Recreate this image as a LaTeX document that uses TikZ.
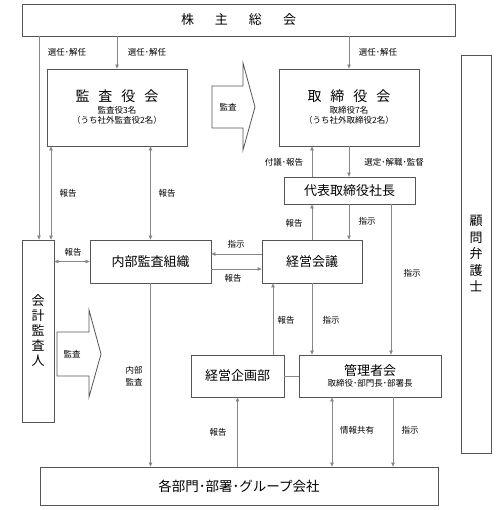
\documentclass[tikz,border=0pt]{standalone}
\usepackage{fontspec}
\setmainfont{Noto Sans CJK JP}
\usepackage{xcolor}
\usepackage{tikz}
\usetikzlibrary{arrows.meta}
\definecolor{boxline}{RGB}{85,85,85}
\definecolor{conline}{RGB}{135,135,135}

\begin{document}
\begin{tikzpicture}[x=1pt,y=-1pt,
		box/.style={draw=boxline,line width=0.8pt,inner sep=0pt,align=center,font=\fontsize{13}{15}\selectfont},
		lbl/.style={inner sep=0pt,font=\fontsize{8.5}{10}\selectfont},
		con/.style={draw=conline,line width=0.7pt,-{Triangle[length=4pt,width=3.6pt]}},
		dcon/.style={con,{Triangle[length=4pt,width=3.6pt]}-{Triangle[length=4pt,width=3.6pt]}}]
		\useasboundingbox (0,0) rectangle (503,510);
		
		\node[box,minimum width=433pt,minimum height=32pt] (soukai) at (238.5,20) {株\hspace{21pt}主\hspace{21pt}総\hspace{21pt}会};
		\node[box,minimum width=140pt,minimum height=77pt,font=\fontsize{8.5}{10.5}\selectfont] (kansa) at (117,107.5) {{\fontsize{14}{14}\selectfont 監\hspace{9pt}査\hspace{9pt}役\hspace{9pt}会}\\[1pt]監査役3名\\（うち社外監査役2名）};
		\node[box,minimum width=140pt,minimum height=77pt,font=\fontsize{8.5}{10.5}\selectfont] (tori) at (349,107.5) {{\fontsize{14}{14}\selectfont 取\hspace{9pt}締\hspace{9pt}役\hspace{9pt}会}\\[1pt]取締役7名\\（うち社外取締役2名）};
		\node[box,minimum width=30pt,minimum height=398pt,font=\fontsize{13}{16.5}\selectfont] (komon) at (476,254) {顧\\問\\弁\\護\\士};
		\node[box,minimum width=131pt,minimum height=27pt] (daihyo) at (349.5,190.5) {代表取締役社長};
		\node[box,minimum width=100pt,minimum height=43pt] (keiei) at (312,261.5) {経営会議};
		\node[box,minimum width=121pt,minimum height=43pt] (naibu) at (150.5,261.5) {内部監査組織};
		\node[box,minimum width=32pt,minimum height=182pt] (kaikei) at (38,331) {会\\計\\監\\査\\人};
		\node[box,minimum width=93pt,minimum height=42pt] (kikaku) at (237.5,376) {経営企画部};
		\node[box,minimum width=142pt,minimum height=42pt,font=\fontsize{8.5}{10.5}\selectfont] (kanri) at (370,376) {{\fontsize{13}{13}\selectfont 管理者会}\\取締役･部門長･部署長};
		\node[box,minimum width=398pt,minimum height=38pt,font=\fontsize{13.5}{15}\selectfont] (kakubu) at (239,486) {各部門･部署･グループ会社};
		
		% block arrows
		\draw[boxline,line width=0.8pt] (212,86) -- (243,86) -- (243,63) -- (255,107) -- (243,150) -- (243,128) -- (212,128) -- cycle;
		\node[lbl] (kansaA) at (228,107) {監査};
		\draw[boxline,line width=0.8pt] (57,332) -- (89,332) -- (89,310) -- (101,354) -- (89,397) -- (89,376) -- (57,376) -- cycle;
		\node[lbl] (kansaB) at (72,354) {監査};
		
		\coordinate (xl) at (39,0);
		\coordinate (xr) at (51,0);
		\coordinate (xu) at (312,0);
		\coordinate (xs) at (391,0);
		\coordinate (xk) at (273,0);
		\coordinate (xj) at (332,0);
		\coordinate (xt) at (393,0);
		\coordinate (ya) at (0,254);
		\coordinate (yb) at (0,269);
		
		\draw[con] (soukai.south -| xl) -- (kaikei.north -| xl);
		\draw[dcon] (kansa.south -| xr) -- (kaikei.north -| xr);
		\draw[con] (soukai.south -| kansa.north) -- (kansa.north);
		\draw[con] (soukai.south -| tori.north) -- (tori.north);
		\draw[dcon] (kansa.south -| naibu.north) -- (naibu.north);
		\draw[dcon] (kaikei.east |- naibu.west) -- (naibu.west);
		\draw[con] (keiei.west |- ya) -- (naibu.east |- ya);
		\draw[con] (naibu.east |- yb) -- (keiei.west |- yb);
		\draw[con] (daihyo.north -| xu) -- (tori.south -| xu);
		\draw[con] (tori.south) -- (daihyo.north -| tori.south);
		\draw[con] (keiei.north) -- (daihyo.south -| keiei.north);
		\draw[con] (daihyo.south -| tori.south) -- (keiei.north -| tori.south);
		\draw[con] (daihyo.south -| xs) -- (kanri.north -| xs);
		\draw[con] (keiei.south) -- (kanri.north -| keiei.south);
		\draw[con] (kikaku.north -| xk) -- (keiei.south -| xk);
		\draw[conline,line width=0.7pt] (kikaku.east) -- (kanri.west);
		\draw[con] (naibu.south) -- (kakubu.north -| naibu.south);
		\draw[con] (kakubu.north -| kikaku.south) -- (kikaku.south);
		\draw[dcon] (kanri.south -| xj) -- (kakubu.north -| xj);
		\draw[con] (kanri.south -| xt) -- (kakubu.north -| xt);
		
		% labels
		\node[lbl] (l1) at (67,52) {選任･解任};
		\node[lbl] (l2) at (147,52) {選任･解任};
		\node[lbl] (l3) at (378,52) {選任･解任};
		\node[lbl] (l4) at (68,193) {報告};
		\node[lbl] (l5) at (167,193) {報告};
		\node[lbl] (l6) at (284,162) {付議･報告};
		\node[lbl] (l7) at (394,162) {選定･解職･監督};
		\node[lbl] (l8) at (294,223) {報告};
		\node[lbl] (l9) at (367,221) {指示};
		\node[lbl] (l10) at (236,244) {指示};
		\node[lbl] (l11) at (233,278) {報告};
		\node[lbl] (l12) at (73,252) {報告};
		\node[lbl] (l13) at (412,273) {指示};
		\node[lbl] (l14) at (286,320) {報告};
		\node[lbl] (l15) at (331,320) {指示};
		\node[lbl,align=center,font=\fontsize{8.5}{12.5}\selectfont] (l16) at (134,376) {内部\\監査};
		\node[lbl] (l17) at (218,432) {報告};
		\node[lbl] (l18) at (357,430) {情報共有};
		\node[lbl] (l19) at (410,430) {指示};
	\end{tikzpicture}
\end{document}
